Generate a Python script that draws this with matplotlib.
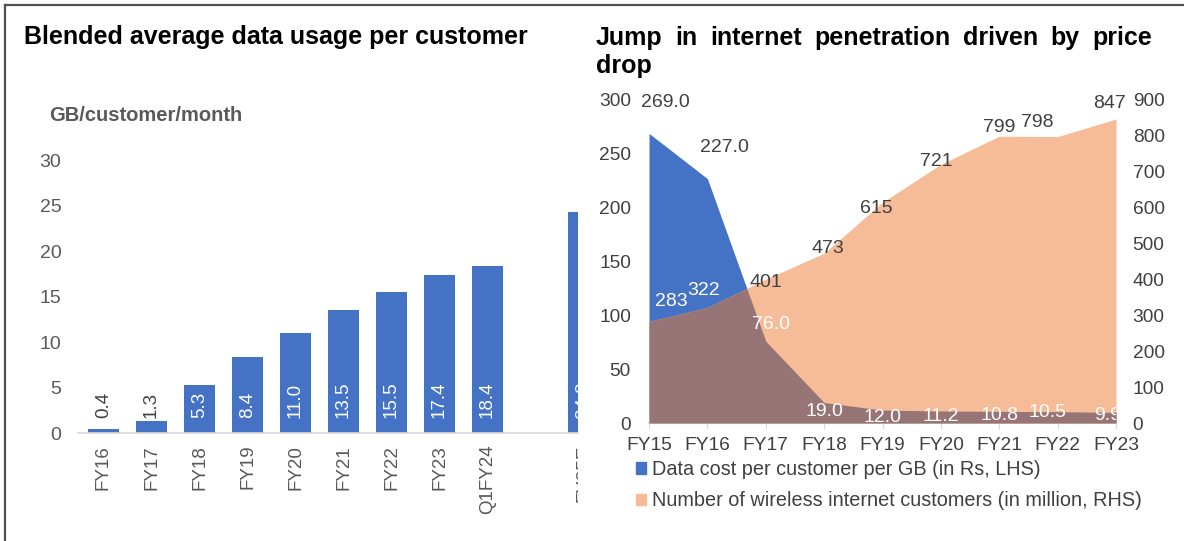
import numpy as np
import matplotlib
matplotlib.use("Agg")
import matplotlib.pyplot as plt
from matplotlib.patches import Patch, Rectangle
from matplotlib.lines import Line2D
import matplotlib.transforms as mtransforms

plt.rcParams['font.family'] = ['Liberation Sans', 'DejaVu Sans']

# ---------------- data ----------------
usage_categories = ["FY16", "FY17", "FY18", "FY19", "FY20", "FY21", "FY22", "FY23", "Q1FY24", "", "FY25E"]
usage_values = [0.4, 1.3, 5.3, 8.4, 11.0, 13.5, 15.5, 17.4, 18.4, None, 24.3]
usage_labels = ["0.4", "1.3", "5.3", "8.4", "11.0", "13.5", "15.5", "17.4", "18.4", "", "24.3"]

years = ["FY15", "FY16", "FY17", "FY18", "FY19", "FY20", "FY21", "FY22", "FY23"]
data_cost = [269.0, 227.0, 76.0, 19.0, 12.0, 11.2, 10.8, 10.5, 9.9]
customers = [283, 322, 401, 473, 615, 721, 799, 798, 847]

left_title = "Blended average data usage per customer"
unit_label = "GB/customer/month"
right_title_line1 = "Jump in internet penetration driven by price"
right_title_line2 = "drop"
legend_labels = ["Data cost per customer per GB (in Rs, LHS)",
                 "Number of wireless internet customers (in million, RHS)"]

# ---------------- style ----------------
W, H = 1184, 541
BLUE = "#4472C4"
ORANGE = "#F5BC97"
MAUVE = "#977576"
GRAY = "#595959"
DARK = "#404040"
AXIS = "#D9D9D9"
FS = 13.5
TITLE_FS = 18.0

fig = plt.figure(figsize=(W / 100, H / 100), dpi=100)
fig.patch.set_facecolor("white")


def rect(l, t, r, b):
    return [l / W, 1 - b / H, (r - l) / W, (b - t) / H]


# frame lines (left and top)
fig.add_artist(Line2D([5 / W, 5 / W], [0, 1 - 5 / H], color="#505050", lw=1.6, transform=fig.transFigure))
fig.add_artist(Line2D([5 / W, 1], [1 - 5 / H, 1 - 5 / H], color="#505050", lw=1.6, transform=fig.transFigure))

# ================= left chart =================
ax = fig.add_axes(rect(78, 160, 578, 433))
pos = np.arange(len(usage_categories))
vals = np.array([np.nan if v is None else v for v in usage_values], dtype=float)
ax.bar(pos, np.nan_to_num(vals), width=0.65, color=BLUE, zorder=2)
ax.set_ylim(0, 30)
ax.set_yticks(np.arange(0, 31, 5))
spacing = 48.0
ax.set_xlim(-(103.5 - 78) / spacing, (578 - 103.5) / spacing)
ax.set_xticks(pos[:9])
ax.set_xticklabels(usage_categories[:9], rotation=90, fontsize=FS, color=GRAY)
ax.tick_params(axis="x", length=0, pad=8.5)
ax.tick_params(axis="y", length=0, pad=12, labelsize=FS + 0.5, labelcolor=GRAY)
for s in ["top", "right", "left"]:
    ax.spines[s].set_visible(False)
ax.spines["bottom"].set_color(AXIS)
ax.spines["bottom"].set_linewidth(1.2)

clip_rect = Rectangle((0, 0), 578 / W, 1, transform=fig.transFigure, visible=False)
fig.add_artist(clip_rect)
off = mtransforms.offset_copy(ax.transData, fig=fig, x=0, y=15, units="dots")
for i, (v, lab) in enumerate(zip(usage_values, usage_labels)):
    if v is None:
        continue
    col = DARK if v < 3 else "white"
    t = ax.text(pos[i], 0, lab, rotation=90, ha="center", va="bottom", color=col,
                fontsize=FS, transform=off, zorder=3)
    t.set_clip_path(clip_rect)
    t.set_clip_on(True)
# clipped tick label of the cut-off bar
xt = mtransforms.blended_transform_factory(ax.transData, ax.transAxes)
xt = xt + mtransforms.ScaledTranslation(0, -12 / 100, fig.dpi_scale_trans)
t = ax.text(10, 0, usage_categories[10], rotation=90, ha="center", va="top", color=GRAY,
            fontsize=FS, transform=xt)
t.set_clip_path(clip_rect)
t.set_clip_on(True)

fig.text(24 / W, 1 - 44 / H, left_title, fontsize=TITLE_FS, fontweight="bold", color="black", va="baseline")
fig.text(49 / W, 1 - 121 / H, unit_label, fontsize=14.5, fontweight="bold", color=GRAY, va="baseline")

# ================= right chart =================
ax1 = fig.add_axes(rect(649, 100, 1116, 423))
ax2 = ax1.twinx()
x = np.arange(len(years))
ax1.fill_between(x, 0, data_cost, color=BLUE, lw=0, zorder=1)
ax1.set_ylim(0, 300)
ax1.set_yticks(np.arange(0, 301, 50))
ax2.set_ylim(0, 900)
ax2.set_yticks(np.arange(0, 901, 100))
ax1.set_xlim(0, len(years) - 1)
ax1.set_xticks(x)
ax1.set_xticklabels(years)

ax2.fill_between(x, 0, customers, color=ORANGE, lw=0, zorder=1)
# overlapping part of the two areas
xf = np.linspace(0, len(years) - 1, 801)
cost_rhs = np.interp(xf, x, np.array(data_cost) * 3)
cust_rhs = np.interp(xf, x, customers)
ax2.fill_between(xf, 0, np.minimum(cost_rhs, cust_rhs), color=MAUVE, lw=0, zorder=2)

for a in (ax1, ax2):
    for s in ["top", "right", "left"]:
        a.spines[s].set_visible(False)
    a.spines["bottom"].set_color(AXIS)
    a.spines["bottom"].set_linewidth(1.2)
    a.spines["bottom"].set_zorder(5)
ax2.spines["bottom"].set_visible(False)
ax1.tick_params(axis="x", length=4, color=AXIS, pad=6, labelsize=FS + 0.3, labelcolor=DARK)
ax1.tick_params(axis="y", length=0, pad=13, labelsize=FS + 0.3, labelcolor=DARK)
ax2.tick_params(axis="y", length=0, pad=12, labelsize=FS + 0.3, labelcolor=DARK)

# data labels (dx, dy in pixels)
cost_offsets = [(16, 31), (17, 31), (5, 17), (0, -9), (0, -7), (0, -6), (0, -4), (-10, -1), (-8, -3)]
cust_offsets = [(22, 20), (-4, 17), (0, -3), (4, 5), (-6, -6), (-5, 3), (0, 9), (-20, 14), (-6, 16)]
for i, v in enumerate(data_cost):
    dx, dy = cost_offsets[i]
    tr = mtransforms.offset_copy(ax1.transData, fig=fig, x=dx, y=dy, units="dots")
    col = DARK if i < 2 else "white"
    ax2.text(x[i], v, f"{v:.1f}", transform=tr, ha="center", va="center", fontsize=FS + 0.5,
             color=col, zorder=6, clip_on=(i == len(data_cost) - 1))
for i, v in enumerate(customers):
    dx, dy = cust_offsets[i]
    tr = mtransforms.offset_copy(ax2.transData, fig=fig, x=dx, y=dy, units="dots")
    col = "white" if i < 2 else DARK
    ax2.text(x[i], v, f"{v}", transform=tr, ha="center", va="center", fontsize=FS + 0.5,
             color=col, zorder=6)

# justified title
renderer = fig.canvas.get_renderer()
words = right_title_line1.split()
tx = []
for w_ in words:
    tx.append(fig.text(0, 1 - 45 / H, w_, fontsize=TITLE_FS, fontweight="bold", va="baseline"))
widths = [t.get_window_extent(renderer).width for t in tx]
x0, x1 = 596, 1152
gap = (x1 - x0 - sum(widths)) / (len(words) - 1)
cur = x0
for t, wd in zip(tx, widths):
    t.set_x(cur / W)
    cur += wd + gap
fig.text(x0 / W, 1 - 73 / H, right_title_line2, fontsize=TITLE_FS, fontweight="bold", va="baseline")

handles = [Patch(color=BLUE), Patch(color=ORANGE)]
fig.legend(handles, legend_labels, loc="upper left", bbox_to_anchor=(636 / W, 1 - 460 / H),
           bbox_transform=fig.transFigure, frameon=False, fontsize=14.3,
           handlelength=0.5, handleheight=0.5, handletextpad=0.3, labelspacing=0.62,
           borderpad=0, borderaxespad=0, labelcolor=DARK)

fig.savefig("out.png", dpi=100)
